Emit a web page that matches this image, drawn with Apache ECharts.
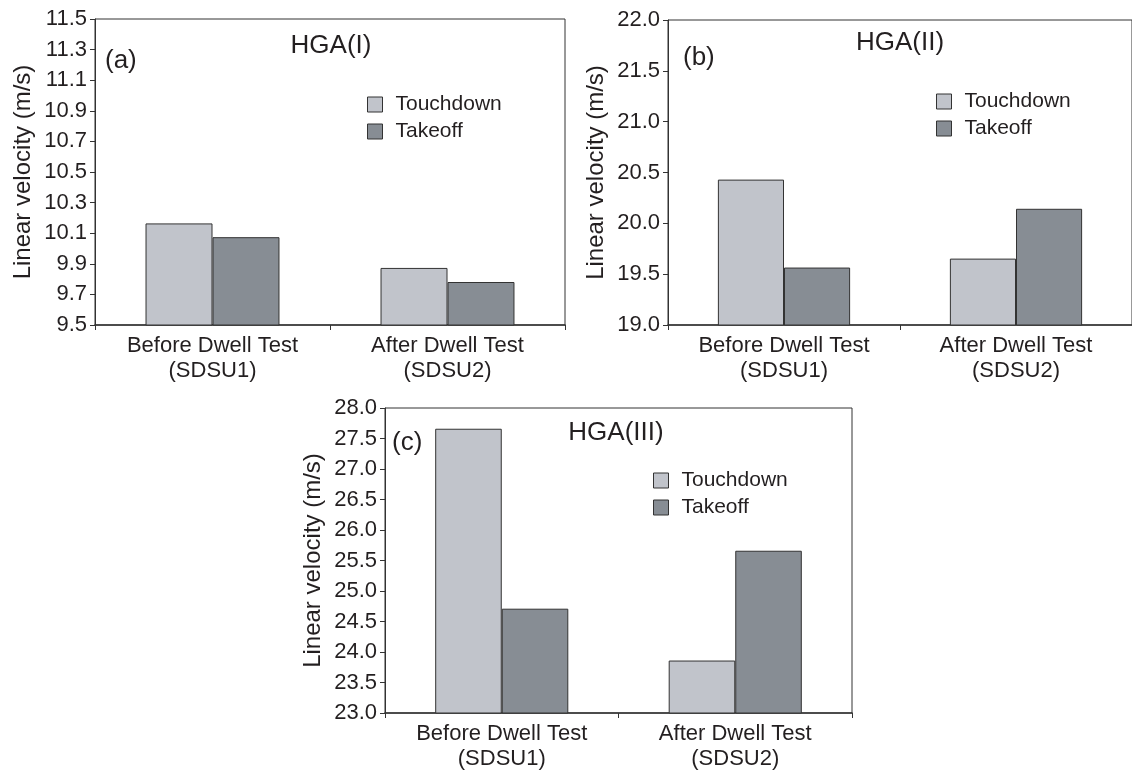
<!DOCTYPE html>
<html>
<head>
<meta charset="utf-8">
<script src="https://cdn.jsdelivr.net/npm/echarts@6/dist/echarts.min.js"></script>
<style>
html,body{margin:0;padding:0;background:#fff;}
#chart{width:1132px;height:776px;}
</style>
</head>
<body>
<div id="chart"></div>
<script>
// ---- data ----
const categories = ['Before Dwell Test\n(SDSU1)', 'After Dwell Test\n(SDSU2)'];
const seriesNames = ['Touchdown', 'Takeoff'];
const panelTitles = ['HGA(I)', 'HGA(II)', 'HGA(III)'];
const panelLetters = ['(a)', '(b)', '(c)'];
const yAxisName = 'Linear velocity (m/s)';

const touchdownA = [10.164, 9.873];
const takeoffA = [10.074, 9.781];
const touchdownB = [20.43, 19.653];
const takeoffB = [19.565, 20.143];
const touchdownC = [27.66, 23.86];
const takeoffC = [24.71, 25.66];

const yRangeA = [9.5, 11.5, 0.2];
const yRangeB = [19.0, 22.0, 0.5];
const yRangeC = [23.0, 28.0, 0.5];

// ---- layout / style ----
const FONT = '"Liberation Sans", Arial, sans-serif';
const TXT = '#231f20';
const colTouch = '#c1c4cb';
const colTake = '#878d94';
const edge = '#333333';

const grids = [
  {left: 95, top: 19, width: 470, height: 306},
  {left: 668, top: 20, width: 470, height: 305},
  {left: 385, top: 408, width: 467, height: 305}
];
const panels = [
  {td: touchdownA, to: takeoffA, y: yRangeA},
  {td: touchdownB, to: takeoffB, y: yRangeB},
  {td: touchdownC, to: takeoffC, y: yRangeC}
];
const legendPos = [
  {left: 362, top: 89},
  {left: 931, top: 86},
  {left: 648, top: 465}
];
const titlePos = [
  {x: 331, y: 46}, {x: 900, y: 43}, {x: 616, y: 433}
];
const letterPos = [
  {x: 105, y: 61}, {x: 683, y: 58}, {x: 392, y: 443}
];

const xAxes = [], yAxes = [], series = [], legends = [], graphics = [];
panels.forEach((p, i) => {
  xAxes.push({
    type: 'category', gridIndex: i, data: categories,
    axisLine: {lineStyle: {color: edge, width: 1.6}},
    axisTick: {show: true, length: 5, lineStyle: {color: edge}},
    axisLabel: {color: TXT, fontFamily: FONT, fontSize: 22, lineHeight: 25, margin: 8}
  });
  yAxes.push({
    type: 'value', gridIndex: i, min: p.y[0], max: p.y[1], interval: p.y[2],
    name: yAxisName, nameLocation: 'middle', nameGap: 60,
    nameTextStyle: {color: TXT, fontFamily: FONT, fontSize: 24},
    axisLine: {show: true, lineStyle: {color: edge, width: 1}},
    axisTick: {show: true, length: 5, lineStyle: {color: edge}},
    axisLabel: {color: TXT, fontFamily: FONT, fontSize: 22, margin: 8,
      formatter: v => v.toFixed(1)},
    splitLine: {show: false}
  });
  series.push({
    name: seriesNames[0], type: 'bar', xAxisIndex: i, yAxisIndex: i,
    data: p.td, barGap: '0%', barCategoryGap: '43%',
    itemStyle: {color: colTouch, borderColor: edge, borderWidth: 1}
  });
  series.push({
    name: seriesNames[1], type: 'bar', xAxisIndex: i, yAxisIndex: i,
    data: p.to, barGap: '0%', barCategoryGap: '43%',
    itemStyle: {color: colTake, borderColor: edge, borderWidth: 1}
  });
  legends.push({
    orient: 'vertical', left: legendPos[i].left, top: legendPos[i].top,
    data: seriesNames, icon: 'rect', itemWidth: 15, itemHeight: 15, itemGap: 6,
    selectedMode: false,
    itemStyle: {borderColor: edge, borderWidth: 1},
    textStyle: {color: TXT, fontFamily: FONT, fontSize: 21, padding: [0, 0, 0, 8]}
  });
  graphics.push({
    type: 'text', x: titlePos[i].x, y: titlePos[i].y,
    style: {text: panelTitles[i], fill: TXT, font: '26px ' + FONT,
      textAlign: 'center', textVerticalAlign: 'middle'}
  });
  graphics.push({
    type: 'text', x: letterPos[i].x, y: letterPos[i].y,
    style: {text: panelLetters[i], fill: TXT, font: '26px ' + FONT,
      textAlign: 'left', textVerticalAlign: 'middle'}
  });
});

const chart = echarts.init(document.getElementById('chart'), null, {renderer: 'canvas'});
chart.setOption({
  backgroundColor: '#ffffff',
  animation: false,
  grid: grids.map(g => Object.assign({show: true, borderColor: edge, borderWidth: 1, backgroundColor: 'transparent'}, g)),
  xAxis: xAxes,
  yAxis: yAxes,
  legend: legends,
  series: series,
  graphic: graphics
});
</script>
</body>
</html>
